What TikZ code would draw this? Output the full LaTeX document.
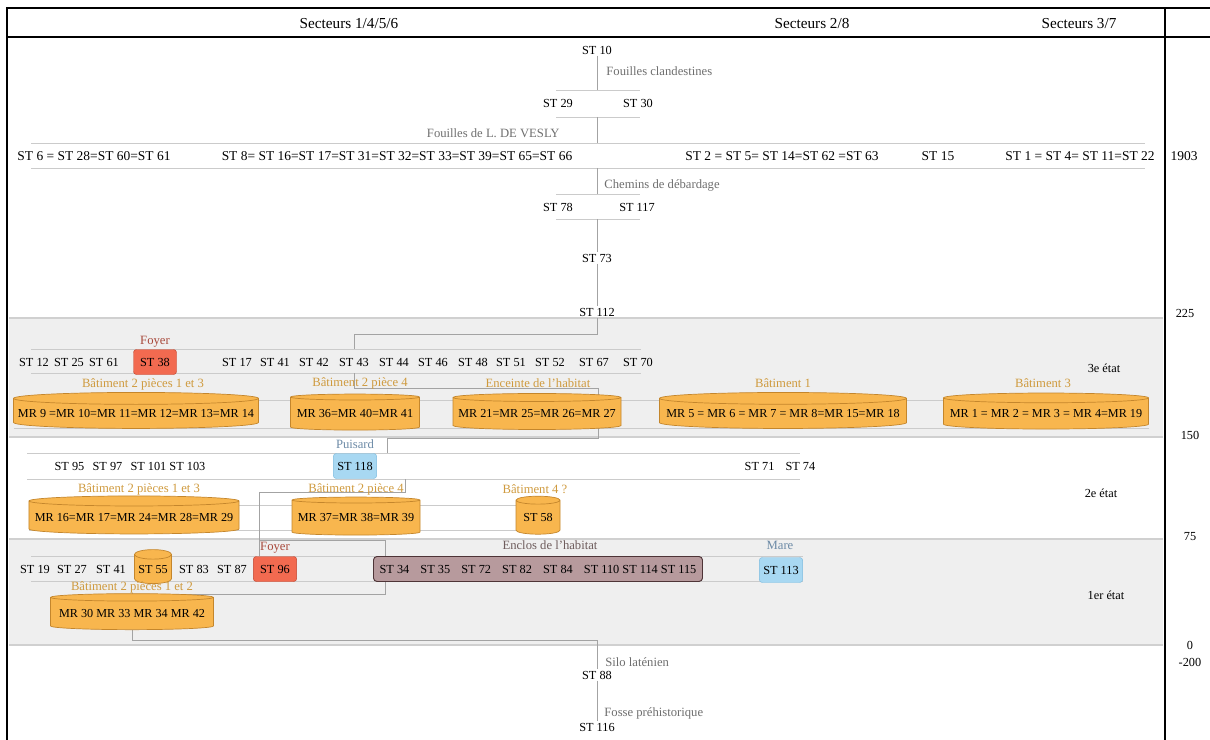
\documentclass[tikz,border=0pt]{standalone}
\usepackage{fontspec}
\setmainfont{Liberation Serif}
\usetikzlibrary{shapes.geometric}
\pgfdeclarelayer{bands}
\pgfdeclarelayer{links}
\pgfsetlayers{bands,links,main}
\definecolor{hmband}{HTML}{EFEFEF}
\definecolor{hmedge}{HTML}{D0D0D0}
\definecolor{hmbar}{HTML}{CBCBCB}
\definecolor{hmlink}{HTML}{A3A3A3}
\definecolor{hmnote}{HTML}{6E6E6E}
\definecolor{hmgold}{HTML}{CF9A3E}
\definecolor{hmorange}{HTML}{F8B64E}
\definecolor{hmorangedk}{HTML}{C4862C}
\definecolor{hmred}{HTML}{F26A50}
\definecolor{hmreddk}{HTML}{C2452E}
\definecolor{hmfoyer}{HTML}{A8483A}
\definecolor{hmblue}{HTML}{A8D8F2}
\definecolor{hmbluedk}{HTML}{7DBCE0}
\definecolor{hmwater}{HTML}{6C8AA6}
\definecolor{hmenclos}{HTML}{B79A9D}
\definecolor{hmenclosdk}{HTML}{4E3437}
\definecolor{hmencloslab}{HTML}{6E5C5C}
\newcommand\stgap{\hspace{9.5pt}}

\begin{document}
\begin{tikzpicture}[x=0.03cm,y=-0.03cm,
  stlab/.style={font=\fontsize{10.5}{12}\selectfont,inner sep=1pt},
  eqlab/.style={font=\fontsize{11.5}{13}\selectfont,inner sep=1pt},
  note/.style={font=\fontsize{10.8}{12}\selectfont,text=hmnote,inner sep=1pt},
  batlab/.style={font=\fontsize{10.8}{12}\selectfont,text=hmgold,inner sep=1pt},
  head/.style={font=\fontsize{13}{15}\selectfont},
  mrbox/.style={cylinder,shape border rotate=90,aspect=0.05,draw=hmorangedk,
                fill=hmorange,line width=0.6pt,font=\fontsize{10.4}{12}\selectfont,
                inner sep=1pt},
  stred/.style={rectangle,rounded corners=2.5pt,draw=hmreddk,fill=hmred,
                minimum width=1.3cm,minimum height=0.75cm,inner sep=1pt,
                font=\fontsize{10.5}{12}\selectfont},
  stblue/.style={stred,draw=hmbluedk,fill=hmblue},
  enclos/.style={rectangle,rounded corners=3pt,draw=hmenclosdk,fill=hmenclos,
                 line width=0.8pt,minimum width=9.87cm,minimum height=0.75cm,
                 font=\fontsize{10.5}{12}\selectfont},
  bar/.style={draw=hmbar,line width=0.6pt},
  link/.style={draw=hmlink,line width=0.6pt},
  bandedge/.style={draw=hmedge,line width=2pt},
  frame/.style={draw=black,line width=2.2pt}
]
\useasboundingbox (0,0) rectangle (1210,740);

% ---- grey bands (3e and 1er etat) ---------------------------
\begin{pgfonlayer}{bands}
  \fill[hmband] (9,318) rectangle (1163,437);
  \draw[bandedge] (9,318) -- (1163,318);
  \draw[bandedge] (9,437) -- (1163,437);
  \fill[hmband] (9,539) rectangle (1163,645);
  \draw[bandedge] (9,539) -- (1163,539);
  \draw[bandedge] (9,645) -- (1163,645);
\end{pgfonlayer}

% ---- frame and headings -------------------------------------
\draw[frame] (7,740) -- (7,8) -- (1210,8);
\draw[frame] (7,37) -- (1210,37);
\draw[frame] (1165,8) -- (1165,740);
\node[head] (sec1) at (349,24) {Secteurs 1/4/5/6};
\node[head] (sec2) at (812,24) {Secteurs 2/8};
\node[head] (sec3) at (1079,24) {Secteurs 3/7};

% ---- right-hand scale ---------------------------------------
\node[eqlab] (y1903) at (1184,156) {1903};
\node[stlab] (y225) at (1185,313) {225};
\node[stlab] (y150) at (1190,435) {150};
\node[stlab] (y75) at (1190,537) {75};
\node[stlab] (y0) at (1190,645) {0};
\node[stlab] (y200) at (1190,662) {-200};

% ---- row bars -----------------------------------------------
\coordinate (b2t) at (556,90);  \coordinate (b2b) at (556,117);
\coordinate (b3t) at (31,143);  \coordinate (b3b) at (31,168);
\coordinate (b4t) at (556,194); \coordinate (b4b) at (556,219);
\coordinate (b7t) at (31,349);  \coordinate (b7b) at (31,373);
\coordinate (b8t) at (14,400);  \coordinate (b8b) at (14,428);
\coordinate (b9t) at (27,453);  \coordinate (b9b) at (27,479);
\coordinate (b10t) at (29,505); \coordinate (b10b) at (29,530);
\coordinate (b11t) at (31,556); \coordinate (b11b) at (31,581);
\begin{pgfonlayer}{links}
  \foreach \b/\len in {b2t/84,b2b/84,b3t/1114,b3b/1114,b4t/84,b4b/84,
                       b7t/610,b7b/610,b8t/1135,b8b/1135,b9t/773,b9b/773,
                       b10t/531,b10b/531,b11t/772,b11b/772}
    \draw[bar] (\b) -- ++(\len,0);
\end{pgfonlayer}

% ---- upper sequence (recent) --------------------------------
\node[stlab] (st10) at (597,50) {ST 10};
\node[note,anchor=west] (clandest) at (605,71) {Fouilles clandestines};
\node[stlab] (st29) at (558,103) {ST 29};
\node[stlab] (st30) at (638,103) {ST 30};
\node[note,anchor=east] (vesly) at (561,133) {Fouilles de L. DE VESLY};
\node[eqlab] (s6) at (94,156) {ST 6 = ST 28=ST 60=ST 61};
\node[eqlab] (s8) at (397,156) {ST 8= ST 16=ST 17=ST 31=ST 32=ST 33=ST 39=ST 65=ST 66};
\node[eqlab] (s2) at (782,156) {ST 2 = ST 5= ST 14=ST 62 =ST 63};
\node[eqlab] (s15) at (938,156) {ST 15};
\node[eqlab] (s1) at (1080,156) {ST 1 = ST 4= ST 11=ST 22};
\node[note,anchor=west] (chemins) at (603,185) {Chemins de débardage};
\node[stlab] (st78) at (558,207) {ST 78};
\node[stlab] (st117) at (637,207) {ST 117};
\node[stlab] (st73) at (597,258) {ST 73};
\node[stlab] (st112) at (597,312) {ST 112};

% ---- 3e etat ------------------------------------------------
\node[text=hmfoyer,font=\fontsize{10.8}{12}\selectfont] (foyer3) at (155,342) {Foyer};
\foreach \n/\x in {12/34,25/69,61/104}
  \node[stlab] (r7-\n) at (\x,362) {ST \n};
\node[stred,minimum width=1.29cm] (st38) at (155,362) {ST 38};
\foreach \n/\x in {17/237,41/275,42/314,43/354,44/394,46/433,48/473,
                   51/511,52/550,67/594,70/638}
  \node[stlab] (r7-\n) at (\x,362) {ST \n};
\node[stlab] (etat3) at (1104,368) {3e état};

\node[batlab] (bat13a) at (143,384) {Bâtiment 2 pièces 1 et 3};
\node[batlab] (bat4a) at (360,383) {Bâtiment 2 pièce 4};
\node[batlab] (enceinte) at (538,383) {Enceinte de l’habitat};
\node[batlab] (bat1) at (783,383) {Bâtiment 1};
\node[batlab] (bat3) at (1043,383) {Bâtiment 3};
\node[mrbox,minimum width=7.35cm,minimum height=1.08cm] (mr9) at (136,414)
  {MR 9 =MR 10=MR 11=MR 12=MR 13=MR 14};
\node[mrbox,minimum width=3.87cm,minimum height=1.08cm] (mr36) at (355,414)
  {MR 36=MR 40=MR 41};
\node[mrbox,minimum width=5.04cm,minimum height=1.08cm] (mr21) at (537,414)
  {MR 21=MR 25=MR 26=MR 27};
\node[mrbox,minimum width=7.41cm,minimum height=1.08cm] (mr5) at (783,414)
  {MR 5 = MR 6 = MR 7 = MR 8=MR 15=MR 18};
\node[mrbox,minimum width=6.15cm,minimum height=1.08cm] (mr1) at (1046,414)
  {MR 1 = MR 2 = MR 3 = MR 4=MR 19};

% ---- 2e etat ------------------------------------------------
\node[text=hmwater,font=\fontsize{10.8}{12}\selectfont] (puisard) at (355,444) {Puisard};
\node[stlab] (r9a) at (130,466) {ST 95\hspace{7pt}ST 97\hspace{7pt}ST 101 ST 103};
\node[stblue] (st118) at (355,466) {ST 118};
\node[stlab] (r9b) at (780,466) {ST 71\stgap ST 74};
\node[stlab] (etat2) at (1101,493) {2e état};

\node[batlab] (bat13b) at (139,489) {Bâtiment 2 pièces 1 et 3};
\node[batlab] (bat4b) at (356,489) {Bâtiment 2 pièce 4};
\node[batlab] (bat4q) at (535,489) {Bâtiment 4 ?};
\node[mrbox,minimum width=6.3cm,minimum height=1.14cm] (mr16) at (134,518)
  {MR 16=MR 17=MR 24=MR 28=MR 29};
\node[mrbox,minimum width=3.84cm,minimum height=1.14cm] (mr37) at (356,518)
  {MR 37=MR 38=MR 39};
\node[mrbox,aspect=0.25,minimum width=1.32cm,minimum height=1.14cm] (st58) at (538,518)
  {ST 58};

% ---- 1er etat -----------------------------------------------
\node[text=hmfoyer,font=\fontsize{10.8}{12}\selectfont] (foyer1) at (275,548) {Foyer};
\node[text=hmencloslab,font=\fontsize{10.8}{12}\selectfont] (encloslab) at (550,545) {Enclos de l’habitat};
\node[text=hmwater,font=\fontsize{10.8}{12}\selectfont] (mare) at (780,545) {Mare};
\foreach \n/\x in {19/35,27/72,41/111,83/194,87/232}
  \node[stlab] (r11-\n) at (\x,569) {ST \n};
\node[mrbox,aspect=0.3,minimum width=1.11cm,minimum height=1.02cm] (st55) at (153,570) {ST 55};
\node[stred] (st96) at (275,569) {ST 96};
\node[enclos] (enclos) at (538,569)
  {ST 34\stgap ST 35\stgap ST 72\stgap ST 82\stgap ST 84\stgap ST 110 ST 114 ST 115};
\node[stblue] (st113) at (781,570) {ST 113};
\node[stlab] (etat1) at (1106,595) {1er état};

\node[batlab] (bat12) at (132,587) {Bâtiment 2 pièces 1 et 2};
\node[mrbox,minimum width=4.89cm,minimum height=1.08cm] (mr30) at (132,614)
  {MR 30 MR 33 MR 34 MR 42};

% ---- older features -----------------------------------------
\node[note,anchor=west] (silo) at (604,662) {Silo laténien};
\node[stlab] (st88) at (597,675) {ST 88};
\node[note,anchor=west] (fosse) at (603,713) {Fosse préhistorique};
\node[stlab] (st116) at (597,727) {ST 116};

% ---- stratigraphic links ------------------------------------
\coordinate (k1) at (354,334);
\coordinate (k2) at (354,388);
\coordinate (k3) at (598,438);
\coordinate (k4) at (387,453);
\coordinate (k5) at (405,479);
\coordinate (k6) at (259,492);
\coordinate (k7) at (259,540);
\coordinate (k8) at (385,594);
\coordinate (k9) at (0,640);
\begin{pgfonlayer}{links}
  \draw[link] (st10) -- (st10 |- b2t);
  \draw[link] (st10 |- b2b) -- (st10 |- b3t);
  \draw[link] (st10 |- b3b) -- (st10 |- b4t);
  \draw[link] (st10 |- b4b) -- (st73);
  \draw[link] (st73) -- (st112);
  \draw[link] (st112) |- (k1) -- (k1 |- b7t);
  \draw[link] (k1 |- b7b) -- (k2) -| (k3) -| (k4);
  \draw[link] (k5) |- (k6) -- (k6 |- b11t);
  \draw[link] (k7) -| (k8) -| (mr30);
  \draw[link] (mr30) -- (mr30 |- k9) -| (st88);
  \draw[link] (st88) -- (st116);
\end{pgfonlayer}

\end{tikzpicture}
\end{document}
